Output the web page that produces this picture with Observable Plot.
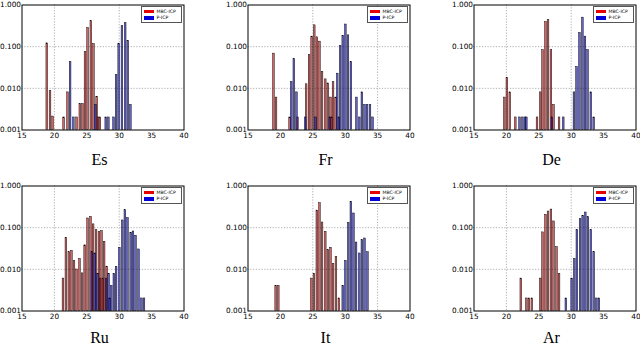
<!DOCTYPE html>
<html><head><meta charset="utf-8">
<script src="https://cdn.jsdelivr.net/npm/d3@7"></script>
<script src="https://cdn.jsdelivr.net/npm/@observablehq/plot@0.6"></script>
<style>
html,body{margin:0;padding:0;background:#fff;overflow:hidden}
#root{position:relative;width:640px;height:346px;overflow:hidden}
#root svg{position:absolute;left:0;top:0}
.legend{position:absolute;width:41px;height:16.5px;border:0.8px solid #555;background:#fff;font-family:"DejaVu Sans",sans-serif;font-size:4.6px;line-height:5px;color:#000;box-sizing:border-box}
.legend .row{position:absolute;left:2px;height:5px;white-space:nowrap}
.legend .sw{position:absolute;left:0;top:1px;width:10px;height:3.2px}
.legend .tx{position:absolute;left:13px;top:0}
</style>
</head><body><div id="root"></div>
<script>
const seriesNames = ["MBC-ICP", "P-ICP"];
const seriesColors = ["#c42020", "#2020c0"];
const legendColors = ["#e80000", "#0000d8"];
const xTicks = [15, 20, 25, 30, 35, 40];
const yTicks = [0.001, 0.01, 0.1, 1];
const languages = ["Es", "Fr", "De", "Ru", "It", "Ar"];

// Es
const esMbcX = [18.9,19.4,19.8,21.5,22.1,23.5,24.0,24.4,24.8,25.2,25.7,26.1,26.6,26.8,27.1];
const esMbcY = [0.12,0.0086,0.0021,0.002,0.008,0.002,0.0042,0.0042,0.074,0.28,0.41,0.116,0.0063,0.002,0.002];
const esPX = [22.5,23.0,26.4,28.0,28.4,29.2,29.6,30.0,30.5,31.0,31.4,31.8];
const esPY = [0.043,0.002,0.004,0.002,0.002,0.002,0.021,0.118,0.31,0.37,0.137,0.004];
// Fr
const frMbcX = [19.0,19.4,21.5,22.7,24.05,24.5,24.9,25.3,25.7,26.1,26.5,27.0,27.4,27.8,28.0,28.2,28.6];
const frMbcY = [0.068,0.006,0.002,0.002,0.0125,0.063,0.174,0.325,0.168,0.132,0.025,0.0164,0.0131,0.006,0.002,0.014,0.006];
const frPX = [21.75,22.15,22.55,23.9,25.5,27.7,28.85,29.1,29.3,29.7,30.1,30.5,30.95,31.8,32.25,32.65,33.05,33.45,33.9,34.3];
const frPY = [0.0142,0.05,0.008,0.002,0.002,0.002,0.0225,0.002,0.104,0.18,0.34,0.187,0.043,0.006,0.002,0.008,0.004,0.004,0.004,0.002];
// De
const deMbcX = [19.75,20.15,20.6,21.45,24.8,25.3,25.65,26.1,26.5,26.95,27.35,28.2];
const deMbcY = [0.006,0.018,0.008,0.002,0.002,0.008,0.082,0.39,0.437,0.082,0.004,0.002];
const dePX = [22.1,22.55,22.95,23.15,27.1,28.85,30.5,30.9,31.35,31.8,32.2,32.6,33.1,33.55];
const dePY = [0.002,0.002,0.002,0.002,0.002,0.002,0.008,0.0325,0.213,0.497,0.174,0.083,0.008,0.002];
// Ru
const ruMbcX = [21.4,21.85,22.3,22.7,23.1,23.5,23.95,24.35,24.75,25.2,25.65,26.05,26.5,26.95,27.15,27.35,27.55,27.75,28.15];
const ruMbcY = [0.006,0.057,0.0257,0.028,0.0159,0.0099,0.0178,0.008,0.0376,0.166,0.182,0.12,0.087,0.078,0.006,0.083,0.006,0.046,0.0116];
const ruPX = [25.85,26.3,26.75,28.05,28.45,28.6,28.85,29.25,29.6,30.1,30.55,30.95,31.35,31.85,32.2,32.6,33.05,33.5,33.9];
const ruPY = [0.0257,0.024,0.0078,0.006,0.0077,0.002,0.004,0.0077,0.0115,0.033,0.149,0.262,0.17,0.0755,0.081,0.064,0.03,0.002,0.002];
// It
const itMbcX = [19.35,19.75,24.85,25.25,25.7,26.1,26.5,27.0,27.4,27.8,28.2,28.65,29.1];
const itMbcY = [0.004,0.004,0.006,0.0078,0.257,0.385,0.133,0.08,0.029,0.033,0.0135,0.0198,0.002];
const itPX = [29.7,30.1,30.55,30.95,31.35,31.75,32.25,32.65,33.05,33.5];
const itPY = [0.004,0.016,0.131,0.42,0.219,0.044,0.024,0.05,0.055,0.0257];
// Ar
const arMbcX = [22.3,23.15,23.55,24.0,25.3,25.65,26.1,26.5,26.95,27.35,27.8,28.2];
const arMbcY = [0.006,0.002,0.002,0.002,0.006,0.077,0.203,0.244,0.272,0.141,0.034,0.0078];
const arPX = [29.25,30.15,30.55,30.95,31.45,31.85,32.25,32.65,33.1,33.55,33.95,34.35];
const arPY = [0.002,0.006,0.0178,0.087,0.16,0.193,0.231,0.178,0.087,0.0257,0.002,0.002];

// vertical grid lines per panel
const gridA = [20, 30];
const gridB = [25, 35];
const yGrid = [0.01, 0.1];

const panelData = [
  [esMbcX, esMbcY, esPX, esPY, gridA],
  [frMbcX, frMbcY, frPX, frPY, gridB],
  [deMbcX, deMbcY, dePX, dePY, gridA],
  [ruMbcX, ruMbcY, ruPX, ruPY, gridA],
  [itMbcX, itMbcY, itPX, itPY, gridB],
  [arMbcX, arMbcY, arPX, arPY, gridA]
];

const panels = languages.map((name, i) => ({name, col: i % 3, row: Math.floor(i / 3)}));
const bars = [];
const gridRows = [];
panels.forEach((p, i) => {
  const [mx, my, px, py, g] = panelData[i];
  mx.forEach((x, j) => bars.push({col: p.col, row: p.row, x, y: my[j], s: seriesNames[0]}));
  px.forEach((x, j) => bars.push({col: p.col, row: p.row, x, y: py[j], s: seriesNames[1]}));
  g.forEach(v => gridRows.push({col: p.col, row: p.row, v}));
});

const W = 640, H = 346;
const ML = 21.5, MR = 4.5, MT = 4.5, MB = 35.5;
const PW = 162, PH = 125, GAPX = 64, GAPY = 56;
const halfW = 0.13;
const dotted = {stroke: "#999", strokeWidth: 0.8, strokeDasharray: "1.2,1.6"};
const titleStyle = {fontFamily: "Liberation Serif, DejaVu Serif, serif", fontSize: 16, frameAnchor: "bottom", lineAnchor: "bottom", fill: "#000"};

const chart = Plot.plot({
  width: W, height: H,
  marginLeft: ML, marginRight: MR, marginTop: MT, marginBottom: MB,
  style: {fontFamily: "DejaVu Sans, sans-serif", fontSize: "7.3px", background: "transparent", overflow: "visible", color: "#000"},
  fx: {domain: [0, 1, 2], paddingInner: GAPX / (PW + GAPX), paddingOuter: 0, round: false, axis: null},
  fy: {domain: [0, 1], paddingInner: GAPY / (PH + GAPY), paddingOuter: 0, round: false, axis: null},
  x: {domain: [15, 40], label: null},
  y: {type: "log", domain: [0.001, 1], label: null},
  color: {domain: seriesNames, range: seriesColors},
  marks: [
    Plot.ruleX(gridRows, {x: "v", fx: "col", fy: "row", ...dotted}),
    Plot.ruleY(yGrid, dotted),
    Plot.rect(bars, {fx: "col", fy: "row", x1: d => d.x - halfW, x2: d => d.x + halfW, y1: 0.001, y2: "y", fill: "s", fillOpacity: 0.7, stroke: "#000", strokeWidth: 0.45}),
    Plot.frame({stroke: "#000", strokeWidth: 1}),
    Plot.axisX(xTicks, {facetAnchor: null, label: null, tickSize: 0, tickPadding: 3.3, tickFormat: d => String(d)}),
    Plot.axisY(yTicks, {facetAnchor: null, label: null, tickSize: 0, tickPadding: 1, tickFormat: d3.format(".3f")}),
    Plot.text(panels.filter(p => p.row === 0), {fx: "col", fy: "row", text: "name", dx: -3.5, dy: 35, ...titleStyle}),
    Plot.text(panels.filter(p => p.row === 1), {fx: "col", fy: "row", text: "name", dx: -3.5, dy: 32, ...titleStyle})
  ]
});
const root = document.getElementById("root");
root.appendChild(chart);

// legends (one per panel, top-right inside the frame)
panels.forEach(p => {
  const fl = ML + p.col * (PW + GAPX);
  const ft = MT + p.row * (PH + GAPY);
  const lg = document.createElement("div");
  lg.className = "legend";
  lg.style.left = (fl + PW - 43) + "px";
  lg.style.top = (ft + 1.5) + "px";
  seriesNames.forEach((n, i) => {
    const r = document.createElement("div");
    r.className = "row";
    r.style.top = (1.8 + i * 6.6) + "px";
    const sw = document.createElement("span");
    sw.className = "sw";
    sw.style.background = legendColors[i];
    const tx = document.createElement("span");
    tx.className = "tx";
    tx.textContent = n;
    r.appendChild(sw); r.appendChild(tx);
    lg.appendChild(r);
  });
  root.appendChild(lg);
});
</script>
</body></html>
